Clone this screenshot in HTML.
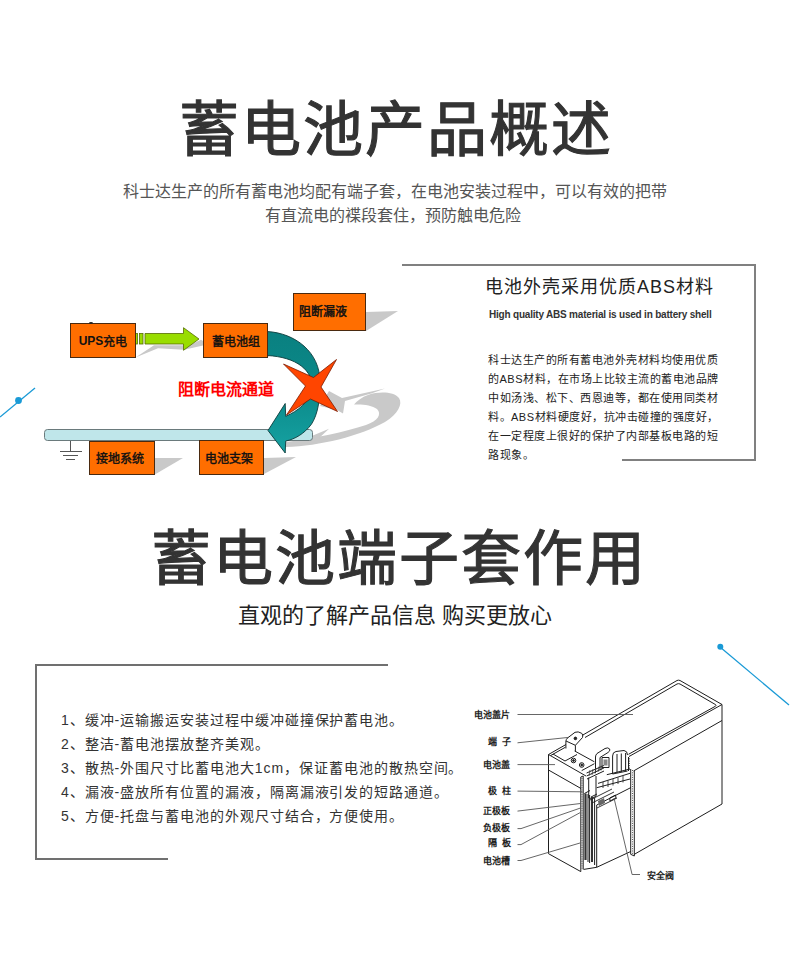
<!DOCTYPE html>
<html lang="zh-CN"><head><meta charset="utf-8">
<style>
html,body{margin:0;padding:0;background:#fff;}
body{width:790px;height:969px;position:relative;overflow:hidden;font-family:"Liberation Sans",sans-serif;}
.a{position:absolute;white-space:nowrap;}
.t1{left:0;width:790px;text-align:center;font-size:60px;font-weight:400;color:#333;line-height:1;letter-spacing:2px;text-indent:2px;-webkit-text-stroke:1.1px #333;}
.sub{left:0;width:790px;text-align:center;font-size:16px;color:#555;line-height:24px;}
.ob{position:absolute;background:#ff6e00;border:1px solid #4a2a10;box-sizing:border-box;font-size:12px;font-weight:400;-webkit-text-stroke:0.45px #111;color:#111;font-family:"Liberation Serif",serif;display:flex;align-items:center;justify-content:center;}
.rt{font-size:11px;color:#222;line-height:19px;}
.li{font-size:14px;color:#333;line-height:24px;letter-spacing:0.95px;}
.lb{font-size:9px;font-weight:700;color:#222;}
</style></head><body>
<div class="a t1" style="top:101px;">蓄电池产品概述</div>
<div class="a sub" style="top:180px;">科士达生产的所有蓄电池均配有端子套，在电池安装过程中，可以有效的把带<br><span style="position:relative;left:-2px">有直流电的褋段套住，预防触电危险</span></div>

<svg class="a" style="left:0;top:0" width="790" height="969" viewBox="0 0 790 969">
  <!-- blue deco lines -->
  <line x1="0" y1="417" x2="35" y2="388" stroke="#1a9ad6" stroke-width="1.3"/>
  <circle cx="18.5" cy="400.5" r="3.4" fill="#1a9ad6"/>
  <line x1="720" y1="647" x2="789" y2="705" stroke="#1a9ad6" stroke-width="1.3"/>
  <circle cx="720.3" cy="646.7" r="3" fill="#1a9ad6"/>
  <!-- right box borders -->
  <path d="M402 265 H755 V460 H622" fill="none" stroke="#808080" stroke-width="2"/>
  <!-- second box -->
  <path d="M388 665 H36 V859 H168" fill="none" stroke="#707070" stroke-width="2"/>
</svg>


<svg class="a" style="left:0;top:0" width="790" height="969" viewBox="0 0 790 969">
  <!-- shadows -->
  <g fill="#c9c9c9">
    <polygon points="135.5,357.5 154,345.3 184,345.3 184,347.5 201,339.7 208.6,344.2 184,349.8 158,348.3"/>
    <polygon points="268,350 280,344 268,357"/>
    <polygon points="366,312 398,311 366,331"/>
    <polygon points="154,458 183,458 154,475"/>
    <polygon points="264,458 296,457 264,474"/>
    <path d="M286 447 C 320 446, 360 436, 385 422 C 398 414, 403 404, 399 398 C 394 392, 380 391, 368 395 C 362 397, 357 401, 354 404.5 C 362 404, 372 405, 377 409 C 382 414, 378 421, 366 425 C 345 432, 315 438, 286 442 Z"/>
    <polygon points="329,391 342,398 385,388.4 372,393.2 345,401 343,413.4 337,410 320,406"/>
    <polygon points="300,441 329,428.7 316,441"/>
  </g>
  <!-- bar -->
  <rect x="44.5" y="429.5" width="268" height="11" rx="3" fill="#bfe6ea" stroke="#6a7a7c" stroke-width="1"/>
  <!-- ground symbol -->
  <g stroke="#555" stroke-width="1">
    <line x1="70.5" y1="441" x2="70.5" y2="451.5"/>
    <line x1="60" y1="451.5" x2="82" y2="451.5"/>
    <line x1="63" y1="455.5" x2="78" y2="455.5"/>
    <line x1="66" y1="459.5" x2="75" y2="459.5"/>
  </g>
  <!-- green arrow -->
  <g fill="#99dd00" stroke="#556b00" stroke-width="0.8">
    <rect x="135.5" y="333.5" width="2" height="10.5"/>
    <rect x="139.5" y="333.5" width="3.5" height="10.5"/>
    <polygon points="145,333.5 183.5,333.5 183.5,327.7 199,339 183.5,350.3 183.5,344 145,344"/>
  </g>
  <!-- teal arrow -->
  <defs><linearGradient id="tg" x1="0" y1="0" x2="0" y2="1"><stop offset="0" stop-color="#0a8080"/><stop offset="0.5" stop-color="#0b8a8a"/><stop offset="1" stop-color="#16a2a2"/></linearGradient></defs>
  <path d="M267 331.5 C 295 333, 320 352, 320 382 C 320 400, 318 414, 311.4 424.3 C 304 434, 295 439, 285.7 441.1 L 285.2 453 L 268 430.5 L 285.2 403.5 L 285.7 416.3 C 298 411, 309 402, 312 390 C 314 370, 296 357, 267 355.5 Z" fill="url(#tg)" stroke="#0a3a3a" stroke-width="0.9"/>
  <!-- red star -->
  <polygon points="283.5,364 313.5,377.5 336.5,359.5 321,387 337.5,411.5 310.5,399 286.5,415 305.5,386" fill="#ff4500" stroke="#7a1a00" stroke-width="0.8"/>
</svg>
<div class="a" style="left:89px;top:321.5px;width:4px;height:2px;border-radius:50%;background:#222;z-index:2"></div>
<div class="ob" style="left:70px;top:323px;width:66px;height:35px;"><span style="font-family:'Liberation Sans',sans-serif;font-weight:700;-webkit-text-stroke:0">UPS</span>充电</div>
<div class="ob" style="left:203px;top:323px;width:65px;height:35px;">蓄电池组</div>
<div class="ob" style="left:293px;top:293px;width:73px;height:38px;justify-content:flex-start;padding-left:5px;padding-bottom:2px;">阻断漏液</div>
<div class="ob" style="left:89px;top:441px;width:66px;height:34px;justify-content:flex-start;padding-left:6px;">接地系统</div>
<div class="ob" style="left:199px;top:440px;width:65px;height:35px;justify-content:flex-start;padding-left:5px;">电池支架</div>
<div class="a" style="left:178px;top:376px;font-size:16px;font-weight:700;color:#ff0000;">阻断电流通道</div>

<div class="a" style="left:485px;top:272px;font-size:18px;color:#222;letter-spacing:1px;">电池外壳采用优质ABS材料</div>
<div class="a" style="left:489px;top:309px;font-size:10px;font-weight:700;color:#333;letter-spacing:-0.2px;">High quality ABS material is used in battery shell</div>
<div class="a rt" style="left:488px;top:351px;letter-spacing:0.5px;">科士达生产的所有蓄电池外壳材料均使用优质<br>的ABS材料，在市场上比较主流的蓄电池品牌<br>中如汤浅、松下、西恩迪等，都在使用同类材<br>料。ABS材料硬度好，抗冲击碰撞的强度好，<br>在一定程度上很好的保护了内部基板电路的短<br>路现象。</div>

<div class="a t1" style="top:530px;left:3px;">蓄电池端子套作用</div>
<div class="a" style="left:0;width:790px;text-align:center;top:597px;font-size:22px;color:#222;">直观的了解产品信息 购买更放心</div>

<div class="a li" style="left:61px;top:708px;">1、缓冲-运输搬运安装过程中缓冲碰撞保护蓄电池。<br>2、整洁-蓄电池摆放整齐美观。<br>3、散热-外围尺寸比蓄电池大1cm，保证蓄电池的散热空间。<br>4、漏液-盛放所有位置的漏液，隔离漏液引发的短路通道。<br>5、方便-托盘与蓄电池的外观尺寸结合，方便使用。</div>


<svg class="a" style="left:0;top:0" width="790" height="969" viewBox="0 0 790 969">
 <g fill="none" stroke="#1e1e1e" stroke-width="1" stroke-linejoin="round">
  <!-- top face outer -->
  <path d="M548.5 754.5 L566 744.5 M582 735.5 L677 680.5 Q678.5 679.8 680 680.5 L722 704.5 L629 756.5"/>
  <!-- rim -->
  <path d="M585 737.5 L677 684 Q678.5 683.3 680 684 L715 704.3 Q717 705.5 715.5 706.2 L628.5 754.3"/>
  <!-- lid band on long side -->
  <path d="M722 720.5 L633.5 771"/>
  <!-- right vertical + bottom -->
  <path d="M722 704.5 V804 L634 854.5"/>
  <!-- right cut wall -->
  <path d="M628.5 757 V771 M630.7 769 V854.3 L634.3 856 M634.3 771 V856"/>
  <path d="M632.5 770 V854" stroke="#555" stroke-dasharray="1 1.3"/>
  <path d="M629.5 756 V770" stroke="#555" stroke-dasharray="1 1.3"/>
  <!-- left face -->
  <path d="M548.5 754.5 V853.7 L580.8 871.6"/>
  <path d="M548.5 754.5 L586 776"/>
  <path d="M548.5 770 L581 788.5"/>
  <!-- plate/screws -->
  <path d="M553 754 L565 761 L577 754.5"/>
  <path d="M574.7 751 L594.4 761.8 M581.7 770.6 L594.4 763.7"/>
  <circle cx="573.5" cy="760.5" r="2.3"/>
  <circle cx="581.7" cy="765" r="2.3"/>
  <circle cx="573.5" cy="760.5" r="0.9" fill="#222"/>
  <circle cx="581.7" cy="765" r="0.9" fill="#222"/>
  <!-- terminal 1 -->
  <path d="M565.9 748.5 V741 Q566 739.5 567.5 738 L575 732.3 Q578 731 581.7 733.3 Q583.5 735 582.5 737.5 L575.4 745.3 V751.6"/>
  <path d="M566 741 L575.4 745.3"/>
  <circle cx="575.4" cy="738.4" r="1.3" fill="#222"/>
  <path d="M550.7 755.5 L565.3 747.3"/>
  <!-- terminal 2 -->
  <path d="M595.5 773 V757 Q595.5 755 597 753.5 L605 748.5 Q608 747 609.7 749 Q610.5 751 608 752.5 L600 757.5 V770"/>
  <rect x="602" y="757.5" width="7" height="10"/>
  <rect x="603.5" y="759.5" width="4" height="6" fill="#888" stroke="none"/>
  <!-- valve block -->
  <path d="M612.6 774 V756 Q612.6 752 616 751.5 L624 750.5 Q627.5 751 627.5 755"/>
  <path d="M617 754 V773 M621.3 753.5 V772 M625.6 753 V771"/>
  <path d="M612.6 774 L627.5 771"/>
  <!-- strap -->
  <path d="M586.6 776 L603.9 768 M586.6 773 L603.9 765.5 M587 779 L604 771"/>
  <path d="M589 776 L590 770 M592 775 L593 769 M595 773.5 L596 768 M598 772 L599 766.5 M601 770.5 L602 765.5" stroke="#444" stroke-width="0.8"/>
  <!-- post -->
  <path d="M588.7 777.6 V798 M596 776 V796 M588.7 798 Q592 800 596 796"/>
  <!-- platform -->
  <path d="M598 783.4 L630 773.3 M596.7 787.7 L630 779 M606.8 774.7 L630 769"/>
  <path d="M603 782 V788 M608 780.5 V787 M613 779 V785.5 M618 777.5 V784 M623 776 V782.5" stroke-width="0.8"/>
  <!-- left inner wall (hatched) -->
  <path d="M580.8 777 V871.6 M583.2 776 V869.5 M580.8 777 L583.2 776"/>
  <path d="M582 778 V870" stroke-dasharray="1 1.3" stroke="#555"/>
  <!-- plates -->
  <rect x="584.4" y="793.5" width="2.2" height="66.5" fill="#333" stroke="none"/>
  <rect x="591" y="797" width="2" height="65" fill="#333" stroke="none"/>
  <path d="M588 794 V862 M589.6 795 V863 M594.6 798 V865 M596.7 805 V867.3"/>
  <path d="M584.4 793.5 L590 790.5 M591 797 L597 794"/>
  <path d="M583.7 869.4 L596.7 867.3"/>
  <!-- inner face -->
  <path d="M596.7 805 L631 787.5 M596.7 867.3 L630.7 851.5"/>
  <path d="M590 800 L612 789 M592 803 L614 792 M597 808 L617 798" stroke-width="0.9"/>
  <path d="M598 801 L604 798 L605 803 L599 806 Z" fill="#666" stroke="none"/>
  <!-- safety valve -->
  <path d="M609.7 798 L615.5 795 L616 798 L610 801 Z"/>
  <!-- labels leaders -->
  <g stroke="#555" stroke-width="0.9">
   <path d="M517.5 714.5 H633"/>
   <path d="M517.5 742.8 L568.5 737.4"/>
   <path d="M517.5 764.6 H555"/>
   <path d="M517.5 791.1 L582.5 791.8"/>
   <path d="M517.5 811.1 L580.5 803.5"/>
   <path d="M517.5 828.6 H521 L580.5 808"/>
   <path d="M517.5 844.6 H521 L580 812.7"/>
   <path d="M517.5 860.5 H521 L580 843"/>
   <path d="M614 798 L632.1 874.5 H640"/>
  </g>
 </g>
</svg>
<div class="a lb" style="left:474px;top:708px;">电池盖片</div>
<div class="a lb" style="left:488px;top:735px;">端&nbsp;&nbsp;子</div>
<div class="a lb" style="left:483px;top:758px;">电池盖</div>
<div class="a lb" style="left:488px;top:784px;">极&nbsp;&nbsp;柱</div>
<div class="a lb" style="left:483px;top:804px;">正极板</div>
<div class="a lb" style="left:483px;top:821px;">负极板</div>
<div class="a lb" style="left:488px;top:836px;">隔&nbsp;&nbsp;板</div>
<div class="a lb" style="left:483px;top:854px;">电池槽</div>
<div class="a lb" style="left:647px;top:868.5px;">安全阀</div>

</body></html>
